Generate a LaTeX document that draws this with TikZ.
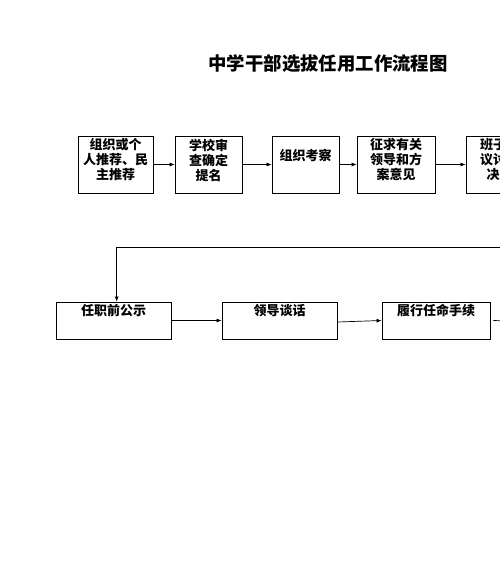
\documentclass[tikz,border=0pt]{standalone}
\usepackage{fontspec}
\newfontfamily\cjk{Noto Sans CJK SC}
\usetikzlibrary{arrows.meta}
\begin{document}
\begin{tikzpicture}[x=1pt,y=-1pt,
  box/.style={draw=black,line width=0.8pt,minimum width=#1,inner sep=0pt},
  rowone/.style={minimum height=57pt},
  rowtwo/.style={minimum height=37pt},
  txt/.style={font=\cjk\bfseries\fontsize{13}{15}\selectfont,align=center,inner sep=0pt,anchor=center},
  arr/.style={line width=0.7pt,-{Latex[length=5pt,width=4pt]}},
  ln/.style={line width=0.7pt}]
\clip (0,0) rectangle (500,565);
\fill[white] (0,0) rectangle (500,565);
% title
\node[font=\cjk\bfseries\fontsize{18.4}{22}\selectfont,inner sep=0pt] (title) at (328,64) {中学干部选拔任用工作流程图};
% row one boxes
\node[box=75pt,rowone] (b1) at (115.5,164.5) {};
\node[box=67pt,rowone] (b2) at (208.5,164.5) {};
\node[box=67pt,rowone] (b3) at (305.5,164.5) {};
\node[box=78pt,rowone] (b4) at (396,164.5) {};
\node[box=67pt,rowone] (b5) at (499.5,164.5) {};
\node[txt] (t1) at (115.5,160) {组织或个\\人推荐、民\\主推荐};
\node[txt] (t2) at (208.5,160) {学校审\\查确定\\提名};
\node[txt] (t3) at (305.5,155) {组织考察};
\node[txt] (t4) at (396,160) {征求有关\\领导和方\\案意见};
\node[txt] (t5) at (499.5,160) {班子会\\议讨论\\决定};
\draw[arr] (b1.east) -- (b2.west);
\draw[arr] (b2.east) -- (b3.west);
\draw[arr] (b3.east) -- (b4.west);
\draw[arr] (b4.east) -- (b5.west);
% row two boxes
\node[box=115pt,rowtwo] (c1) at (113.5,320.5) {};
\node[box=115pt,rowtwo] (c2) at (279.5,320.5) {};
\node[box=108pt,rowtwo] (c3) at (436,320.5) {};
\node[txt] (u1) at (113.5,310.5) {任职前公示};
\node[txt] (u2) at (279.5,310.5) {领导谈话};
\node[txt] (u3) at (436,310.5) {履行任命手续};
\draw[arr] (c1.east) -- (c2.west);
\draw[arr] ([yshift=-1.5pt]c2.east) -- (c3.west);
\coordinate (loopR) at (510,247);
\coordinate (outR) at (510,321);
\draw[arr] (loopR) -| ([xshift=3.2pt]c1.north);
\draw[ln] ([xshift=3pt]c3.east) -- (outR);
\end{tikzpicture}
\end{document}
